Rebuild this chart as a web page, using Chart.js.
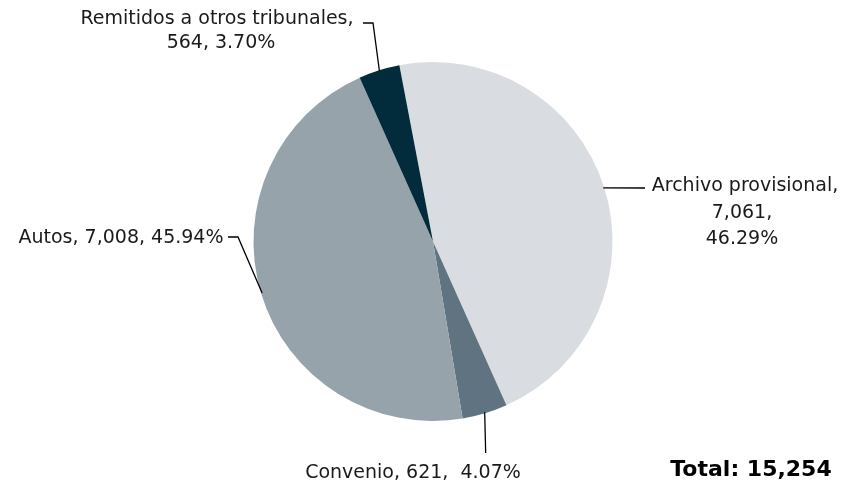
<!DOCTYPE html>
<html>
<head>
<meta charset="utf-8">
<script src="https://cdn.jsdelivr.net/npm/chart.js@4"></script>
<style>
  html, body { margin: 0; padding: 0; background: #ffffff; }
  #wrap { width: 866px; height: 483px; }
</style>
</head>
<body>
<div id="wrap"><canvas id="pie" width="866" height="483"></canvas></div>
<script>
// data
const categories = ["Archivo provisional", "Convenio", "Autos", "Remitidos a otros tribunales"];
const counts = [7061, 621, 7008, 564];
const percents = ["46.29", "4.07", "45.94", "3.70"];
const totalText = "Total: 15,254";
const sliceColors = ["#d9dce0", "#5f7380", "#96a3ab", "#022b3c"];

const FONT = '19px "DejaVu Sans", sans-serif';

function fmt(n) {
    return n.toLocaleString("en-US");
}

// where each label sits and how its leader line bends
// vertical: true -> line drops straight down from the anchor
const labelSpots = [
    { lines: (i) => [categories[i] + ",", fmt(counts[i]) + ",", percents[i] + "%"],
      x: [745, 742, 742], y: [191, 218, 244], elbow: [[645, 188]] },
    { lines: (i) => [categories[i] + ", " + fmt(counts[i]) + ",  " + percents[i] + "%"],
      x: [413], y: [478], vertical: 453, elbow: [] },
    { lines: (i) => [categories[i] + ", " + fmt(counts[i]) + ", " + percents[i] + "%"],
      x: [121], y: [243], elbow: [[238, 237], [228, 237]] },
    { lines: (i) => [categories[i] + ",", fmt(counts[i]) + ", " + percents[i] + "%"],
      x: [217, 221], y: [24, 48], elbow: [[373, 23], [363, 23]] }
];

const leaderLabels = {
    id: "leaderLabels",
    afterDraw(chart) {
        var ctx = chart.ctx;
        var arcs = chart.getDatasetMeta(0).data;
        ctx.save();
        ctx.strokeStyle = "#000000";
        ctx.lineWidth = 1.3;
        arcs.forEach(function(arc, i) {
            var p = arc.getProps(["x", "y", "startAngle", "endAngle", "outerRadius"], true);
            var mid = (p.startAngle + p.endAngle) / 2;
            var ax = p.x + Math.cos(mid) * (p.outerRadius - 1);
            var ay = p.y + Math.sin(mid) * (p.outerRadius - 1);
            var spot = labelSpots[i];
            ctx.beginPath();
            ctx.moveTo(ax, ay);
            if (spot.vertical) {
                ctx.lineTo(ax + 1, spot.vertical);
            }
            spot.elbow.forEach(function(pt) {
                ctx.lineTo(pt[0], pt[1]);
            });
            ctx.stroke();
            ctx.fillStyle = "#1a1a1a";
            ctx.font = FONT;
            ctx.textAlign = "center";
            ctx.textBaseline = "alphabetic";
            spot.lines(i).forEach(function(line, k) {
                ctx.fillText(line, spot.x[k], spot.y[k]);
            });
        });
        ctx.font = 'bold 22px "DejaVu Sans", sans-serif';
        ctx.textAlign = "center";
        ctx.fillStyle = "#000000";
        ctx.fillText(totalText, 751, 476);
        ctx.restore();
    }
};

var chart = new Chart(document.getElementById("pie").getContext("2d"), {
    type: "pie",
    data: {
        labels: categories,
        datasets: [{
            data: counts,
            backgroundColor: sliceColors,
            borderWidth: 0
        }]
    },
    options: {
        responsive: false,
        animation: false,
        rotation: -10.8,
        layout: { padding: { top: 62, bottom: 62, left: 0, right: 0 } },
        plugins: {
            legend: { display: false },
            tooltip: { enabled: false }
        }
    },
    plugins: [leaderLabels]
});
</script>
</body>
</html>
